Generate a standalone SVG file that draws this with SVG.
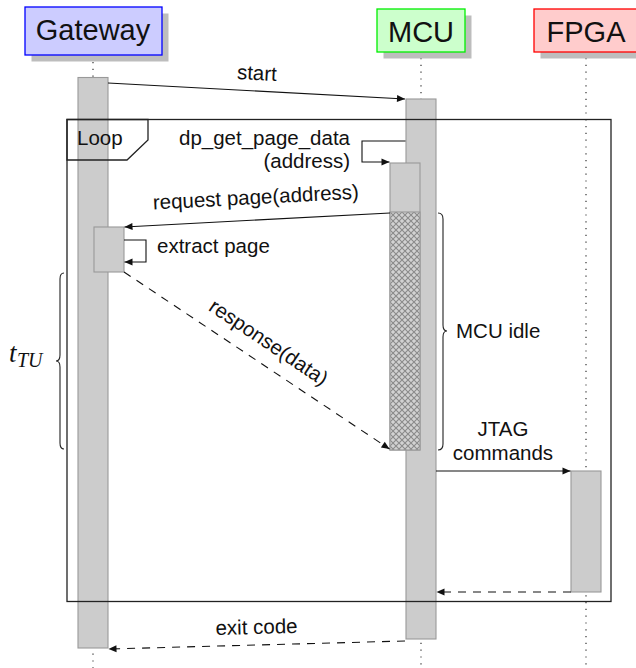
<svg xmlns="http://www.w3.org/2000/svg" width="636" height="668" viewBox="0 0 636 668">
  <style>
    text { font-family: "Liberation Sans", Arial, Helvetica, sans-serif; fill: #111; }
    .hdr { font-size: 29px; text-anchor: middle; }
    .lbl { font-size: 20.5px; }
    .mid { text-anchor: middle; }
    .end { text-anchor: end; }
    .shadow { fill: #bdbdbd; stroke: none; }
    .life { stroke: #333; stroke-width: 1.2; stroke-dasharray: 1.2 5.6; fill: none; }
    .bar { fill: #cccccc; stroke: #999999; stroke-width: 1.1; }
    .msg { stroke: #111; stroke-width: 1.1; fill: none; marker-end: url(#head); }
    .dash { stroke-dasharray: 8 7; }
    .frame { fill: none; stroke: #222; stroke-width: 1.3; }
    .brace { fill: none; stroke: #222; stroke-width: 1.1; }
    .math { font-family: "Liberation Serif", "DejaVu Serif", serif; font-style: italic; }
  </style>
  <defs>
    <marker id="head" markerUnits="userSpaceOnUse" markerWidth="9" markerHeight="8" refX="8" refY="3.5" orient="auto" overflow="visible">
      <path d="M0,0 L8,3.5 L0,7 z" fill="#111"/>
    </marker>
    <pattern id="xhatch" patternUnits="userSpaceOnUse" x="390" y="212" width="6" height="6">
      <rect width="6" height="6" fill="#d2d2d2"/>
      <path d="M0,0 L6,6 M6,0 L0,6" stroke="#8a8a8a" stroke-width="1.1"/>
    </pattern>
  </defs>

  <!-- lifelines -->
  <g id="lifelines">
    <line class="life" x1="93" y1="62" x2="93" y2="668"/>
    <line class="life" x1="421" y1="58" x2="421" y2="668"/>
    <line class="life" x1="586" y1="58" x2="586" y2="668"/>
  </g>

  <!-- participants -->
  <g id="gateway">
    <rect class="shadow" x="31.5" y="13.5" width="137" height="48"/>
    <rect x="25" y="7" width="137" height="48" fill="#ccccff" stroke="#0000ff" stroke-width="1.3"/>
    <text class="hdr" x="93" y="40">Gateway</text>
    <rect class="bar" x="78" y="77.5" width="30" height="570.5"/>
  </g>
  <g id="mcu">
    <rect class="shadow" x="383.5" y="15.5" width="88" height="43"/>
    <rect x="377" y="9" width="88" height="43" fill="#ccffcc" stroke="#00ee00" stroke-width="1.3"/>
    <text class="hdr" x="421" y="42">MCU</text>
    <rect class="bar" x="406" y="99" width="30" height="540"/>
  </g>
  <g id="fpga">
    <rect class="shadow" x="540.5" y="15.5" width="104" height="43"/>
    <rect x="534" y="9" width="104" height="43" fill="#ffcccc" stroke="#ff0000" stroke-width="1.3"/>
    <text class="hdr" x="586" y="42">FPGA</text>
    <rect class="bar" x="571" y="471" width="30" height="121"/>
  </g>

  <!-- loop fragment -->
  <g id="loop">
    <rect class="frame" x="67" y="119.5" width="544" height="482"/>
    <path class="frame" d="M67,119.5 L148,119.5 L148,140 L127,160 L67,160 Z" fill="#ffffff"/>
    <text class="lbl" x="77" y="145">Loop</text>
  </g>

  <!-- nested activations -->
  <g id="gateway-extract">
    <rect class="bar" x="94" y="227" width="30" height="45"/>
  </g>
  <g id="mcu-request">
    <rect class="bar" x="390" y="163" width="30" height="287"/>
    <rect x="390" y="212" width="30" height="238" fill="url(#xhatch)" stroke="#999999" stroke-width="1.1"/>
  </g>

  <!-- messages -->
  <g id="connectors">
    <line class="msg" x1="108" y1="83" x2="405" y2="99"/>
    <path class="msg" d="M405.5,141 L362,141 L362,162 L389.5,162"/>
    <line class="msg" x1="390" y1="213" x2="124.5" y2="227"/>
    <path class="msg" d="M124,240 L146,240 L146,262 L124.5,262"/>
    <line class="msg dash" x1="124" y1="272" x2="389.5" y2="449"/>
    <line class="msg" x1="436" y1="471" x2="570.5" y2="471"/>
    <line class="msg dash" x1="571" y1="592" x2="436.5" y2="592"/>
    <line class="msg dash" x1="405" y1="641" x2="108.5" y2="649"/>
  </g>

  <!-- message labels -->
  <g id="labels">
    <text class="lbl mid" transform="translate(256,91) rotate(3.0)" y="-11">start</text>
    <text class="lbl end" x="350" y="145">dp_get_page_data</text>
    <text class="lbl end" x="350" y="168">(address)</text>
    <text class="lbl mid" transform="translate(257,220) rotate(-3.03)" y="-16">request page(address)</text>
    <text class="lbl" x="157" y="253">extract page</text>
    <text class="lbl mid" transform="translate(256.5,360.5) rotate(33.74)" y="-15">response(data)</text>
    <text class="lbl mid" x="503" y="436">JTAG</text>
    <text class="lbl mid" x="503" y="460">commands</text>
    <text class="lbl mid" transform="translate(257,645) rotate(-1.55)" y="-11">exit code</text>
  </g>

  <!-- timing braces -->
  <g id="mcu-idle">
    <path class="brace" d="M438,213 C442,213 443,215 443,219 L443,325 C443,329 444,331 447,331 C444,331 443,333 443,337 L443,444 C443,448 442,450 438,450"/>
    <text class="lbl" x="456" y="338">MCU idle</text>
  </g>
  <g id="t-tu">
    <path class="brace" d="M64,273 C61,273 60,275 60,279 L60,355 C60,359 59,361 56,361 C59,361 60,363 60,367 L60,443 C60,447 61,449 64,449"/>
    <text class="math" x="9" y="362" style="font-size: 27px;">t<tspan x="17" dy="5" style="font-size: 20px;">TU</tspan></text>
  </g>
</svg>
